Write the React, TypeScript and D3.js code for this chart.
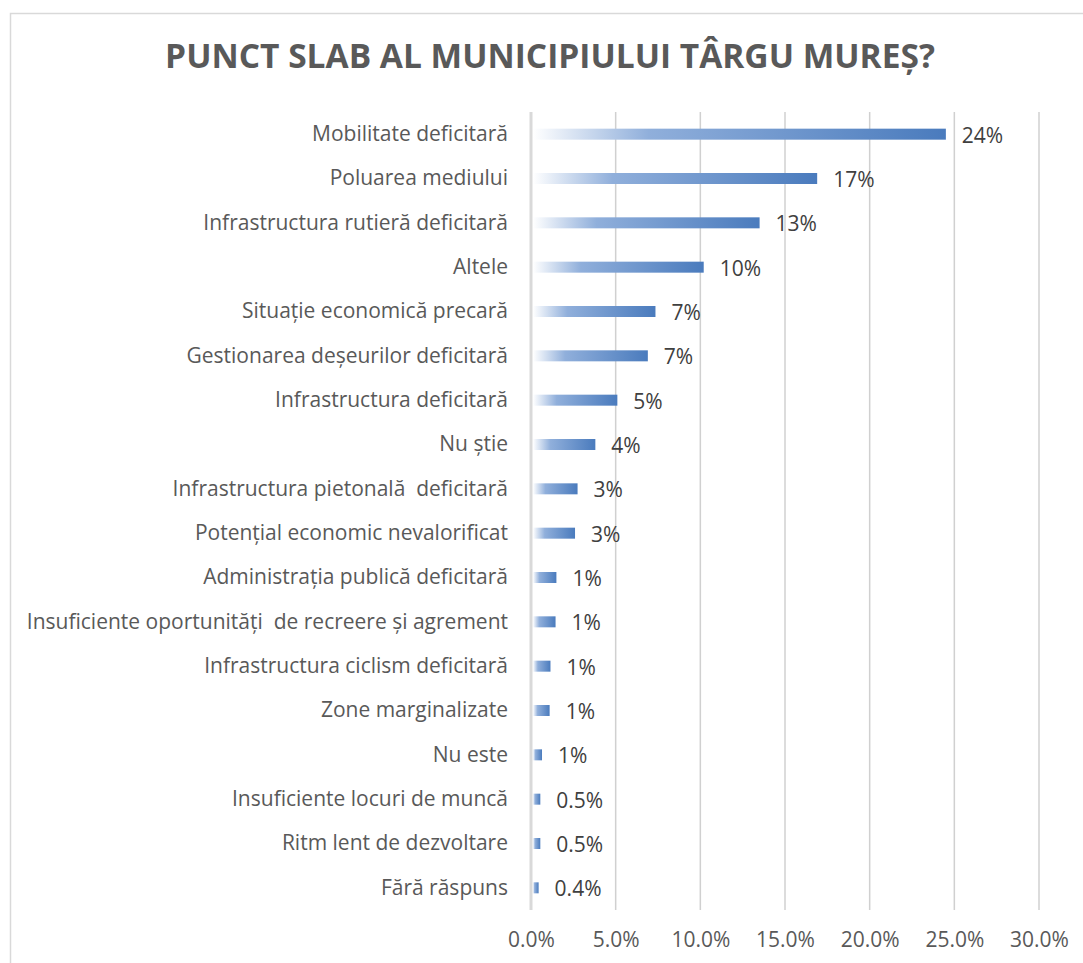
import * as d3 from "d3";
import React, {useRef, useEffect} from "react";

const categories = [
    "Mobilitate deficitară",
    "Poluarea mediului",
    "Infrastructura rutieră deficitară",
    "Altele",
    "Situație economică precară",
    "Gestionarea deșeurilor deficitară",
    "Infrastructura deficitară",
    "Nu știe",
    "Infrastructura pietonală  deficitară",
    "Potențial economic nevalorificat",
    "Administrația publică deficitară",
    "Insuficiente oportunități  de recreere și agrement",
    "Infrastructura ciclism deficitară",
    "Zone marginalizate",
    "Nu este",
    "Insuficiente locuri de muncă",
    "Ritm lent de dezvoltare",
    "Fără răspuns",
];

const values = [24.5, 16.9, 13.5, 10.2, 7.35, 6.9, 5.1, 3.8, 2.75, 2.6, 1.5, 1.45, 1.15, 1.1, 0.65, 0.55, 0.55, 0.45];

const valueLabels = ["24%", "17%", "13%", "10%", "7%", "7%", "5%", "4%", "3%", "3%", "1%", "1%", "1%", "1%", "1%", "0.5%", "0.5%", "0.4%"];

const ticks = [0, 5, 10, 15, 20, 25, 30];

const title = "PUNCT SLAB AL MUNICIPIULUI TÂRGU MUREȘ?";

function App() {

    const ref = useRef(null);

    useEffect(() => {

        const width = 1083;
        const height = 963;
        const left = 531;
        const right = 1039;
        const top = 112;
        const bottom = 910;
        const font = "'Open Sans', sans-serif";

        const svg = d3.select(ref.current)
            .attr("width", width)
            .attr("height", height);
        svg.selectAll("*").remove();

        svg.append("rect")
            .attr("width", width).attr("height", height)
            .attr("fill", "#fff");

        // chart frame, right and bottom edges fall outside the picture
        svg.append("rect")
            .attr("x", 10.5).attr("y", 13.5)
            .attr("width", 1200).attr("height", 1200)
            .attr("fill", "none")
            .attr("stroke", "#d9d9d9")
            .attr("stroke-width", 1.5);

        const defs = svg.append("defs");
        const grad = defs.append("linearGradient")
            .attr("id", "barGrad")
            .attr("x1", "0").attr("x2", "1").attr("y1", "0").attr("y2", "0");
        grad.append("stop").attr("offset", "0").attr("stop-color", "#ffffff");
        grad.append("stop").attr("offset", "0.28").attr("stop-color", "#90afdb");
        grad.append("stop").attr("offset", "1").attr("stop-color", "#4a7bbd");

        const x = d3.scaleLinear()
            .domain([0, 30])
            .range([left, right]);

        const y = d3.scaleBand()
            .domain(categories)
            .range([top, bottom]);

        svg.append("text")
            .attr("x", 550)
            .attr("y", 68)
            .attr("text-anchor", "middle")
            .attr("font-family", font)
            .attr("font-weight", "bold")
            .attr("font-size", 33.5)
            .attr("fill", "#595959")
            .text(title);

        // vertical gridlines
        svg.append("g")
            .selectAll("line")
            .data(ticks.slice(1))
            .enter()
            .append("line")
            .attr("x1", d => x(d)).attr("x2", d => x(d))
            .attr("y1", top).attr("y2", bottom)
            .attr("stroke", "#d0d0d0")
            .attr("stroke-width", 1.5);

        svg.append("line")
            .attr("x1", x(0)).attr("x2", x(0))
            .attr("y1", top).attr("y2", bottom)
            .attr("stroke", "#d9d9d9")
            .attr("stroke-width", 3);

        const xAxis = d3.axisBottom(x)
            .tickValues(ticks)
            .tickSize(0)
            .tickFormat(d => d3.format(".1f")(d) + "%");

        const gx = svg.append("g")
            .attr("transform", `translate(0, ${bottom})`)
            .call(xAxis);
        gx.select(".domain").remove();
        gx.selectAll("text")
            .attr("y", 37)
            .attr("dy", 0)
            .attr("font-family", font)
            .attr("font-size", 21)
            .attr("fill", "#595959");

        const yAxis = d3.axisLeft(y).tickSize(0);
        const gy = svg.append("g")
            .attr("transform", `translate(${508}, 0)`)
            .call(yAxis);
        gy.select(".domain").remove();
        gy.selectAll("text")
            .attr("x", 0)
            .attr("dy", "0.33em")
            .attr("font-family", font)
            .attr("font-size", 21)
            .attr("fill", "#595959")
            .style("white-space", "pre");

        const barH = 11;

        svg.append("g")
            .selectAll("rect")
            .data(values)
            .enter()
            .append("rect")
            .attr("x", x(0) + 2)
            .attr("y", (d, i) => y(categories[i]) + y.bandwidth() / 2 - barH / 2)
            .attr("width", d => x(d) - x(0) - 2)
            .attr("height", barH)
            .attr("fill", "url(#barGrad)");

        svg.append("g")
            .selectAll("text")
            .data(values)
            .enter()
            .append("text")
            .attr("x", d => x(d) + 16)
            .attr("y", (d, i) => y(categories[i]) + y.bandwidth() / 2)
            .attr("dy", "0.4em")
            .attr("font-family", font)
            .attr("font-size", 21)
            .attr("fill", "#404040")
            .text((d, i) => valueLabels[i]);

    }, [])

    return (
        <svg ref={ref} style={{position: "absolute", left: 0, top: 0}} />
    )
}

export default App;
